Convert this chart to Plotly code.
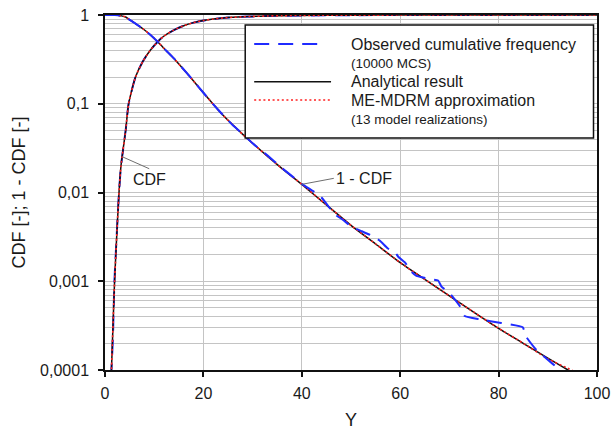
import plotly.graph_objects as go
import numpy as np

# ---- Analytical result: Y grid with CDF and 1-CDF levels ----
ana_x = [0.0, 1.25, 1.5, 1.75, 1.95, 2.2, 2.55, 2.85, 3.25, 4.2, 4.8, 6.2, 7.7, 9.2,
         10.7, 12.0, 14.0, 16.0, 18.0, 20.0, 22.0, 24.0, 26.0, 28.0, 30.0, 33.0, 36.0,
         40.0, 45.0, 50.0, 55.0, 60.0, 65.0, 70.0, 75.0, 80.0, 85.0, 90.0, 94.1, 96.0,
         100.0]
ana_cdf = [None, 8e-5, 2e-4, 5e-4, 1e-3, 2e-3, 5e-3, 0.01, 0.02, 0.05, 0.1, 0.2, 0.3, 0.4,
           0.5, 0.58, 0.676, 0.757, 0.82, 0.867, 0.901, 0.926, 0.9425, 0.9548, 0.9641,
           0.9743, 0.9814, 0.98764, 0.99276, 0.99573, 0.99737, 0.99838, 0.99895,
           0.999316, 0.999553, 0.999705, 0.9998, 0.999864, 0.9999, 0.99991, 0.99994]
ana_exc = [1.0, 0.99992, 0.9998, 0.9995, 0.999, 0.998, 0.995, 0.99, 0.98, 0.95, 0.9, 0.8,
           0.7, 0.6, 0.5, 0.42, 0.324, 0.243, 0.18, 0.133, 0.0989, 0.0741, 0.0575, 0.0452,
           0.0359, 0.0257, 0.0186, 0.01236, 0.00724, 0.00427, 0.00263, 0.00162, 0.00105,
           6.84e-4, 4.47e-4, 2.95e-4, 2.0e-4, 1.36e-4, 1.0e-4, 8.7e-5, 6.0e-5]

# ---- ME-MDRM approximation (13 model realizations) ----
me_x = [0.0, 1.25, 1.5, 1.75, 1.95, 2.2, 2.55, 2.85, 3.25, 4.2, 4.8, 6.2, 7.7, 9.2,
        10.7, 12.0, 14.0, 16.0, 18.0, 20.0, 22.0, 24.0, 26.0, 28.0, 30.0, 33.0, 36.0,
        40.0, 45.0, 50.0, 55.0, 60.0, 65.0, 70.0, 75.0, 80.0, 85.0, 90.0, 94.8, 96.0,
        100.0]
me_cdf = [None, 8e-5, 2e-4, 5e-4, 1e-3, 2e-3, 5e-3, 0.01, 0.02, 0.05, 0.1, 0.2, 0.3, 0.4,
          0.5, 0.58, 0.676, 0.757, 0.82, 0.867, 0.901, 0.926, 0.9425, 0.9548, 0.9641,
          0.9743, 0.9814, 0.98764, 0.99276, 0.99573, 0.99737, 0.99838, 0.99895,
          0.999316, 0.999553, 0.999705, 0.9998, 0.999866, 0.9999, 0.99991, 0.99994]
me_exc = [1.0, 0.99992, 0.9998, 0.9995, 0.999, 0.998, 0.995, 0.99, 0.98, 0.95, 0.9, 0.8,
          0.7, 0.6, 0.5, 0.42, 0.324, 0.243, 0.18, 0.133, 0.0989, 0.0741, 0.0575, 0.0452,
          0.0359, 0.0257, 0.0186, 0.01236, 0.00724, 0.00427, 0.00263, 0.00162, 0.00105,
          6.84e-4, 4.47e-4, 2.95e-4, 2.0e-4, 1.34e-4, 1.0e-4, 9.1e-5, 6.2e-5]

# ---- Observed cumulative frequency (10000 MCS) ----
obs_cdf_x = [1.2, 1.3, 1.6, 1.75, 1.93, 2.2, 2.55, 2.85, 3.25, 4.2, 4.8, 6.2, 7.7, 9.2,
             10.7, 12.0, 14.0, 16.0, 18.0, 20.0, 24.0, 28.0, 33.0, 40.0, 50.0, 60.0,
             70.0, 80.0, 94.0, 100.0]
obs_cdf = [8e-5, 1e-4, 2.2e-4, 4.6e-4, 1.05e-3, 2.1e-3, 5.1e-3, 0.0101, 0.0198, 0.0502,
           0.0995, 0.2, 0.301, 0.4, 0.5, 0.58, 0.676, 0.757, 0.82, 0.867, 0.926, 0.955,
           0.9743, 0.9876, 0.9957, 0.9984, 0.9993, 0.9997, 0.9999, 0.99995]
obs_exc_x = [0.0, 2.0, 3.0, 4.2, 4.8, 6.2, 7.7, 9.2, 10.7, 12.0, 14.0, 16.0, 18.0, 20.0,
             22.0, 24.0, 26.0, 28.0, 30.0, 33.0, 36.0, 38.0, 40.0, 42.7, 44.0, 45.7, 46.4,
             48.4, 50.1, 52.0, 53.9, 55.9, 57.5, 58.9, 59.6, 61.0, 62.3, 63.3, 66.0, 67.7,
             68.4, 70.1, 72.1, 73.1, 76.2, 80.5, 84.9, 85.6, 87.7, 89.7, 92.4, 93.0]
obs_exc = [1.0, 0.999, 0.99, 0.95, 0.9, 0.8, 0.7, 0.6, 0.5, 0.42, 0.325, 0.243, 0.181,
           0.133, 0.0985, 0.0745, 0.0572, 0.0455, 0.0358, 0.0262, 0.0188, 0.0153, 0.0125,
           0.0100, 0.0088, 0.00664, 0.00583, 0.0049, 0.00412, 0.0037, 0.00332, 0.00285,
           0.00234, 0.00215, 0.00189, 0.00162, 0.00128, 0.00115, 0.00106, 0.00102, 8.7e-4,
           7.3e-4, 5.26e-4, 4.06e-4, 3.72e-4, 3.39e-4, 3.03e-4, 2.37e-4, 1.68e-4, 1.35e-4,
           1.0e-4, 9e-5]

# ---- Axis ticks ----
x_ticks = [0, 20, 40, 60, 80, 100]
y_ticks = [1e-4, 1e-3, 1e-2, 1e-1, 1]
y_tick_text = ["0,0001", "0,001", "0,01", "0,1", "1"]
y_minor = [k * 10.0 ** e for e in range(-4, 0) for k in range(2, 10)]

FONT = "Liberation Sans, Arial, sans-serif"
TXT = "#1a1a1a"
BLUE = "#1f2bff"
RED = "#ff2020"
BLACK = "#111111"
BLUE_DASH = "15px,9px"
RED_DOT = "2px,2.6px"

fig = go.Figure()

def line(x, y, color, width, dash="solid", smooth=0.6):
    fig.add_trace(go.Scatter(x=x, y=y, mode="lines", showlegend=False,
                             hoverinfo="skip", connectgaps=False,
                             line=dict(color=color, width=width, dash=dash,
                                       shape="spline", smoothing=smooth)))

# CDF branch
line(obs_cdf_x, obs_cdf, BLUE, 2, BLUE_DASH)
line(ana_x, ana_cdf, BLACK, 1.5)
line(me_x, me_cdf, RED, 1.6, RED_DOT)
# 1 - CDF branch
line(ana_x, ana_exc, BLACK, 1.5)
line(me_x, me_exc, RED, 1.6, RED_DOT)
line(obs_exc_x, obs_exc, BLUE, 2, BLUE_DASH, smooth=0.4)

# Curve labels with leader lines
fig.add_annotation(x=3.5, y=np.log10(0.0253), text="CDF", showarrow=True,
                   arrowhead=0, arrowwidth=1, arrowcolor="#6e6e6e",
                   ax=27, ay=12, xanchor="center", yanchor="top",
                   font=dict(family=FONT, size=16, color=TXT))
fig.add_annotation(x=40, y=np.log10(0.01236), text="1 - CDF", showarrow=True,
                   arrowhead=0, arrowwidth=1, arrowcolor="#6e6e6e",
                   ax=32, ay=-6, xanchor="left", yanchor="middle",
                   font=dict(family=FONT, size=16, color=TXT))

# Legend box drawn in paper coordinates
L, T, W, H = 104.5, 15.0, 493.0, 355.0
def px(x):
    return (x - L) / W
def py(y):
    return (T + H - y) / H

fig.add_shape(type="rect", xref="paper", yref="paper",
              x0=px(245), x1=px(594), y0=py(138), y1=py(25),
              fillcolor="white", line=dict(color="#111111", width=1.5), layer="above")
samples = [(44, BLUE, 2, BLUE_DASH, 326), (81.7, BLACK, 1.5, "solid", 331),
           (100, RED, 1.6, RED_DOT, 331)]
for yy, c, w, d, xe in samples:
    fig.add_shape(type="line", xref="paper", yref="paper",
                  x0=px(254), x1=px(xe), y0=py(yy), y1=py(yy),
                  line=dict(color=c, width=w, dash=d), layer="above")
legend_text = [("Observed cumulative frequency", 44, 16),
               ("(10000 MCS)", 63, 13.5),
               ("Analytical result", 81.7, 16),
               ("ME-MDRM approximation", 100, 16),
               ("(13 model realizations)", 119, 13.5)]
for t, yy, s in legend_text:
    fig.add_annotation(xref="paper", yref="paper", x=px(349), y=py(yy), text=t,
                       showarrow=False, xanchor="left", yanchor="middle",
                       font=dict(family=FONT, size=s, color=TXT))

axis_common = dict(showline=True, linecolor="#111111", linewidth=1.5, mirror=True,
                   ticks="outside", ticklen=5, tickwidth=1.5, tickcolor="#111111",
                   tickfont=dict(family=FONT, size=16, color=TXT), automargin=False,
                   gridcolor="#c4c4c4", gridwidth=1.4, zeroline=False)

fig.update_layout(
    width=611, height=434,
    margin=dict(l=104.5, r=13.5, t=15, b=64),
    paper_bgcolor="white", plot_bgcolor="white",
    showlegend=False,
    xaxis=dict(range=[0, 100], tickmode="array", tickvals=x_ticks,
               ticklabelstandoff=3,
               title=dict(text="Y", font=dict(family=FONT, size=18, color=TXT), standoff=12),
               **axis_common),
    yaxis=dict(type="log", range=[-4, 0], tickmode="array", tickvals=y_ticks,
               ticktext=y_tick_text, ticklabelstandoff=6,
               minor=dict(tickmode="array", tickvals=y_minor, showgrid=True,
                          gridcolor="#c4c4c4", gridwidth=1.4, ticks=""),
               title=dict(text="CDF [-]; 1 - CDF [-]",
                          font=dict(family=FONT, size=18, color=TXT), standoff=10),
               **axis_common),
)

fig.write_html("out.html")
